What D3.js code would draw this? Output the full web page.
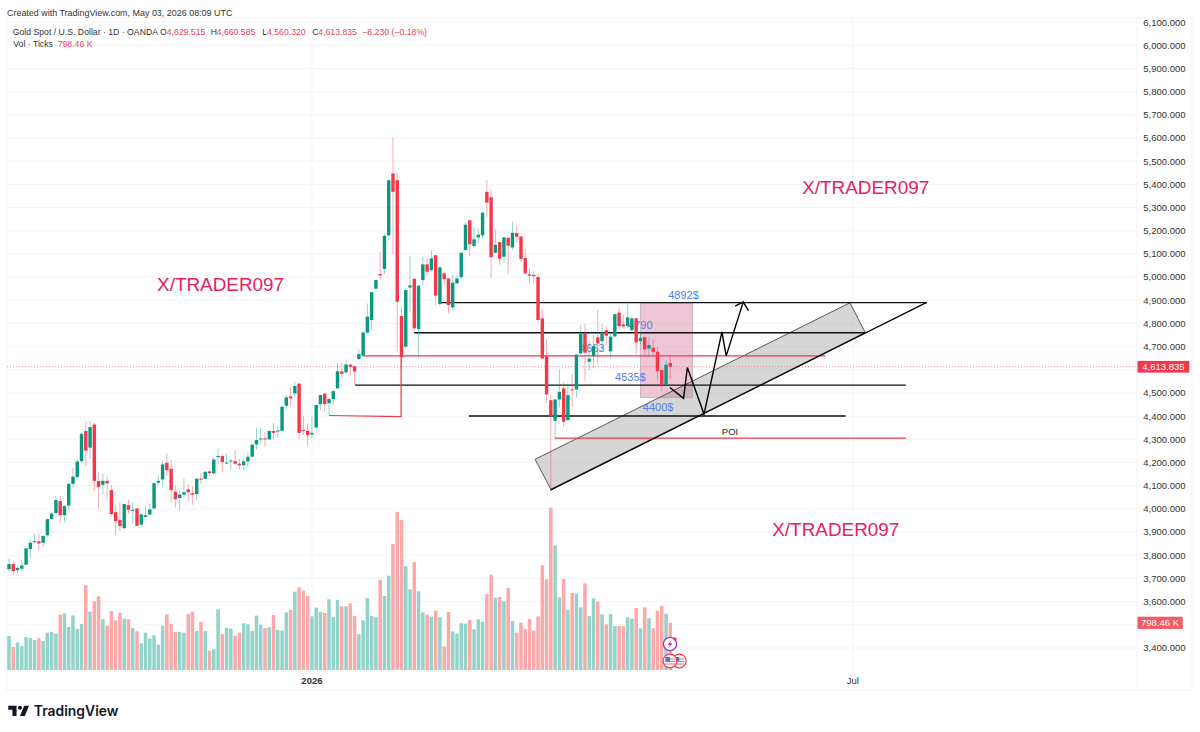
<!DOCTYPE html>
<html><head><meta charset="utf-8">
<script src="https://cdn.jsdelivr.net/npm/d3@7/dist/d3.min.js"></script>
<style>html,body{margin:0;padding:0;background:#fff;overflow:hidden}svg{display:block}text{font-family:"Liberation Sans",Arial,sans-serif}</style>
</head><body><div id="c"></div>
<script>
const opens=[3740,3762,3736,3742,3759,3827,3857,3860,3854,3886,3957,3982,4034,3973,4014,4108,4137,4206,4336,4264,4364,4120,4104,4121,4081,3986,3952,3917,4016,3991,4002,3932,3965,3976,4002,4113,4127,4199,4173,4074,4047,4062,4084,4068,4064,4131,4130,4162,4153,4223,4228,4198,4205,4206,4195,4188,4205,4225,4278,4300,4304,4300,4336,4334,4337,4445,4485,4498,4540,4340,4337,4321,4351,4452,4497,4456,4474,4520,4593,4589,4622,4615,4646,4661,4760,4815,4950,5013,5035,5180,5447,5418,4832,4700,4955,4993,4776,4987,5055,5030,5094,4884,5016,4994,4869,4973,5000,5117,5245,5134,5171,5180,5368,5344,5105,5151,5088,5170,5128,5190,5175,5082,5012,5010,5000,4822,4659,4469,4380,4472,4520,4383,4515,4515,4671,4757,4635,4659,4740,4724,4771,4680,4744,4847,4796,4789,4771,4822,4724,4741,4692,4695,4678,4599,4534,4629.515];
const highs=[3786,3775,3756,3779,3832,3868,3891,3893,3887,3958,3985,4055,4055,4016,4113,4176,4213,4330,4377,4379,4372,4159,4152,4140,4103,4016,4028,4021,4041,4028,4002,3981,4015,4024,4114,4146,4209,4241,4209,4101,4077,4130,4107,4097,4136,4156,4163,4166,4222,4261,4234,4239,4215,4257,4218,4222,4242,4281,4351,4349,4330,4340,4372,4357,4443,4491,4524,4548,4543,4400,4369,4400,4451,4494,4498,4481,4512,4628,4630,4639,4628,4620,4689,4764,4886,4938,4990,5109,5188,5418,5603,5452,4872,4947,5091,4994,4966,5088,5083,5117,5095,5045,5023,4997,5009,5009,5106,5234,5249,5214,5210,5279,5418,5378,5206,5151,5174,5170,5239,5220,5177,5124,5037,5027,5013,4862,4733,4491,4475,4602,4548,4541,4581,4666,4793,4797,4725,4750,4858,4800,4790,4764,4843,4869,4840,4886,4829,4824,4764,4744,4742,4732,4700,4599,4642,4660.585];
const lows=[3729,3715,3719,3729,3757,3789,3851,3817,3835,3880,3955,3978,3942,3943,3995,4093,4136,4199,4185,4218,4078,4001,4062,4041,3969,3884,3904,3913,3980,3937,3926,3926,3962,3973,3999,4098,4096,4143,4029,4006,3995,4052,4032,4018,4038,4107,4127,4141,4152,4199,4160,4193,4170,4188,4170,4167,4179,4222,4257,4282,4268,4297,4300,4307,4337,4429,4441,4481,4300,4318,4271,4304,4347,4426,4419,4405,4451,4517,4566,4586,4577,4534,4646,4656,4757,4771,4947,4990,5013,5157,5098,4678,4610,4692,4848,4774,4653,4966,5002,5023,4879,4879,4966,4843,4855,4970,4994,5114,5091,5131,5145,5167,5260,4997,5102,5052,5062,5013,5119,5151,5066,5013,4970,4973,4804,4645,4455,4094,4297,4438,4352,4376,4441,4481,4664,4553,4599,4606,4620,4678,4707,4650,4740,4771,4778,4778,4767,4664,4711,4661,4656,4661,4556,4508,4531,4560.32];
const closes=[3762,3732,3745,3756,3830,3854,3861,3851,3883,3956,3980,4038,3973,4012,4108,4139,4205,4324,4251,4353,4121,4095,4121,4110,3978,3947,3926,4021,3996,3996,3927,3976,3972,3998,4111,4121,4192,4167,4081,4042,4062,4072,4072,4061,4130,4126,4160,4154,4213,4228,4202,4200,4209,4195,4188,4205,4225,4277,4297,4304,4300,4336,4328,4338,4441,4481,4477,4530,4328,4337,4318,4328,4448,4491,4452,4474,4508,4594,4583,4623,4613,4593,4668,4761,4829,4935,4987,5007,5178,5418,5368,4894,4656,4944,4964,4779,4963,5055,5023,5081,4920,5042,4991,4879,4976,4994,5105,5226,5142,5163,5183,5278,5321,5086,5139,5079,5171,5135,5191,5174,5078,5016,5006,5004,4815,4649,4494,4400,4472,4505,4376,4491,4511,4666,4757,4674,4648,4702,4714,4761,4747,4743,4840,4789,4787,4826,4822,4718,4738,4688,4707,4678,4594,4534,4622,4613.835];
const volumes=[574,388,467,405,557,540,507,535,490,631,642,614,935,957,726,923,692,777,1430,985,1160,1244,861,749,997,839,968,867,856,709,653,450,631,529,586,428,749,940,777,642,642,631,946,985,659,811,659,327,349,1025,608,709,698,580,631,788,771,659,918,766,709,721,929,676,664,974,1013,1323,1396,1340,1250,906,1053,980,963,1194,895,1182,1075,1075,1126,912,602,839,1216,912,890,1520,1250,1593,2128,2669,2534,1751,1362,1824,1329,974,935,901,1002,890,400,980,653,614,788,783,845,687,856,816,1278,1610,1222,1233,1160,1385,828,631,799,692,861,664,906,1768,1531,2742,2106,1227,1537,1013,1301,1289,1058,1464,912,1210,1154,940,771,946,743,743,738,890,867,1047,704,1058,873,704,1002,1087,951,798.46];
const priceTicks=[3400,3500,3600,3700,3800,3900,4000,4100,4200,4300,4400,4500,4600,4700,4800,4900,5000,5100,5200,5300,5400,5500,5600,5700,5800,5900,6000,6100];
const hiddenTicks=[3500,4600];
const timeTicks=[{i:71,label:"2026",bold:true},{i:197.8,label:"Jul",bold:false}];
const hLines=[
 {a:100.9,b:215.1,p:4890,c:"#111",w:1.4},
 {a:94.9,b:200.7,p:4760,c:"#111",w:1.4},
 {a:83.05,b:191.3,p:4660,c:"#f2364c",w:1.2},
 {a:81.1,b:210.2,p:4534,c:"#111",w:1.4},
 {a:107.8,b:196.1,p:4401,c:"#111",w:1.4},
 {a:128,b:210.2,p:4305,c:"#f2364c",w:1.2}];
const redStep=[[75,4403],[91.9,4398],[91.9,4658]];
const channel=[[123.3,4214],[127,4085],[200.7,4761],[197.1,4889]];
const trendLine=[[126.9,4081],[215.1,4891]];
const arrowPath=[[154.9,4524],[158.1,4477],[159,4610],[162.9,4409],[167.1,4764],[168.1,4660],[172.1,4893]];
const arrowHead=[[170.2,4875],[172.1,4893],[173.3,4855]];
const pinkBox={a:148,b:160.2,top:4889,bottom:4481};
const notes=[{i:154.5,p:4905,t:"4892$"},{i:142.05,p:4551,t:"4535$"},{i:148.55,p:4421,t:"4400$"},{i:145.1,p:4777,t:"4790"},{i:133.85,p:4676,t:"4663"}];
const brand=[{i:34.7,p:4940,t:"X/TRADER097"},{i:185.9,p:5358,t:"X/TRADER097"},{i:178.9,p:3885,t:"X/TRADER097"}];

const W=1200,H=732;
const svg=d3.select("#c").append("svg").attr("width",W).attr("height",H);
const x=d3.scaleLinear().domain([0,155]).range([9,670.3]);
const y=d3.scaleLinear().domain([3400,6100]).range([648,22.1]);
const v=d3.scaleLinear().domain([0,2750]).range([670,507.2]);
const GREEN="#089981",RED="#f5364b",VG="#93d3c9",VR="#fba9ab";
const fmt=d3.format(",.3f");
const line=d3.line().x(d=>x(d[0])).y(d=>y(d[1]));
const idx=d3.range(opens.length);

// frame and grid
const g=svg.append("g");
g.selectAll("line.h").data(priceTicks).join("line").attr("x1",7).attr("x2",1137).attr("y1",d=>y(d)).attr("y2",d=>y(d)).attr("stroke","#f5f5f5");
g.selectAll("line.v").data(timeTicks).join("line").attr("x1",d=>x(d.i)).attr("x2",d=>x(d.i)).attr("y1",18).attr("y2",690).attr("stroke","#f5f5f5");
[[7,18,1192,18],[7,18,7,690],[7,690,1192,690],[1192,18,1192,690],[1137,18,1137,690]].forEach(l=>g.append("line").attr("x1",l[0]).attr("y1",l[1]).attr("x2",l[2]).attr("y2",l[3]).attr("stroke","#f3f3f3"));

// volume
svg.append("g").selectAll("rect").data(idx).join("rect")
 .attr("x",i=>x(i)-1.75).attr("width",3.5).attr("y",i=>v(volumes[i])).attr("height",i=>v(0)-v(volumes[i]))
 .attr("fill",i=>closes[i]>=opens[i]?VG:VR);

// price line
svg.append("line").attr("x1",7).attr("x2",1137).attr("y1",y(closes[155])).attr("y2",y(closes[155])).attr("stroke","#f5364b").attr("stroke-opacity",.55).attr("stroke-dasharray","1 2");

// annotations (beneath the candles)
svg.append("rect").attr("x",x(pinkBox.a)).attr("width",x(pinkBox.b)-x(pinkBox.a)).attr("y",y(pinkBox.top)).attr("height",y(pinkBox.bottom)-y(pinkBox.top)).attr("fill","#d8789c").attr("fill-opacity",.42).attr("stroke","#a89aa0").attr("stroke-opacity",.6);
svg.append("path").attr("d",line(channel)+"Z").attr("fill","#8f8f8f").attr("fill-opacity",.37).attr("stroke","#333").attr("stroke-width",.8);
hLines.forEach(l=>svg.append("line").attr("x1",x(l.a)).attr("x2",x(l.b)).attr("y1",y(l.p)).attr("y2",y(l.p)).attr("stroke",l.c).attr("stroke-width",l.w));
svg.append("path").attr("d",line(redStep)).attr("fill","none").attr("stroke","#f2364c").attr("stroke-width",1.2);
svg.append("path").attr("d",line(trendLine)).attr("fill","none").attr("stroke","#000").attr("stroke-width",1.2);
svg.append("path").attr("d",line(arrowPath)).attr("fill","none").attr("stroke","#000").attr("stroke-width",1.4);
svg.append("path").attr("d",line(arrowHead)).attr("fill","none").attr("stroke","#000").attr("stroke-width",1.4);
svg.selectAll("text.note").data(notes).join("text").attr("class","note").attr("x",d=>x(d.i)).attr("y",d=>y(d.p)).attr("font-size",11).attr("fill","#4d7ff0").text(d=>d.t);
svg.append("text").attr("x",x(169)).attr("y",y(4318)).attr("font-size",9.5).attr("fill","#222").attr("text-anchor","middle").text("POI");

// candles
const c=svg.append("g");
c.selectAll("line").data(idx).join("line").attr("x1",i=>x(i)).attr("x2",i=>x(i)).attr("y1",i=>y(highs[i])).attr("y2",i=>y(lows[i]))
 .attr("stroke",i=>closes[i]>=opens[i]?GREEN:RED).attr("stroke-opacity",.42).attr("stroke-width",1);
c.selectAll("rect").data(idx).join("rect").attr("x",i=>x(i)-1.7).attr("width",3.4)
 .attr("y",i=>y(Math.max(opens[i],closes[i]))).attr("height",i=>Math.max(1,Math.abs(y(opens[i])-y(closes[i]))))
 .attr("fill",i=>closes[i]>=opens[i]?GREEN:RED);

// brand texts
svg.selectAll("text.brand").data(brand).join("text").attr("class","brand").attr("x",d=>x(d.i)).attr("y",d=>y(d.p)).attr("font-size",18.9).attr("fill","#e8205f").text(d=>d.t);

// right axis
svg.selectAll("text.tick").data(priceTicks.filter(d=>!hiddenTicks.includes(d))).join("text").attr("class","tick").attr("x",1185.5).attr("y",d=>y(d)+3.4).attr("text-anchor","end").attr("font-size",9.5).attr("fill","#333").text(d=>fmt(d));
// time axis
svg.selectAll("text.time").data(timeTicks).join("text").attr("class","time").attr("x",d=>x(d.i)).attr("y",684).attr("text-anchor","middle").attr("font-size",9.5).attr("font-weight",d=>d.bold?700:400).attr("fill","#333").text(d=>d.label);
// value labels
const py=y(closes[155]);
svg.append("rect").attr("x",1137.5).attr("y",py-5.7).attr("width",51.8).attr("height",11.7).attr("fill","#f5364b");
svg.append("text").attr("x",1163.4).attr("y",py+3.4).attr("text-anchor","middle").attr("font-size",9.5).attr("fill","#fff").text(fmt(closes[155]));
const vy=v(volumes[155]);
svg.append("rect").attr("x",1137.5).attr("y",vy-6).attr("width",45.2).attr("height",12.2).attr("fill","#f65a60");
svg.append("text").attr("x",1160).attr("y",vy+3.4).attr("text-anchor","middle").attr("font-size",9.5).attr("fill","#fff").text("798.46 K");

// header
svg.append("text").attr("x",7).attr("y",15.8).attr("font-size",8.95).attr("fill","#333").text("Created with TradingView.com, May 03, 2026 08:09 UTC");
const hdr=(xx,yy,t,col)=>svg.append("text").attr("x",xx).attr("y",yy).attr("font-size",8.7).attr("fill",col).text(t);
const DK="#333",RD="#f5405a";
hdr(12.7,34.7,"Gold Spot / U.S. Dollar · 1D · OANDA",DK);
hdr(160,34.7,"O",DK);hdr(166.7,34.7,"4,629.515",RD);
hdr(210.7,34.7,"H",DK);hdr(216.7,34.7,"4,660.585",RD);
hdr(262.3,34.7,"L",DK);hdr(267,34.7,"4,560.320",RD);
hdr(312.3,34.7,"C",DK);hdr(318.3,34.7,"4,613.835",RD);
hdr(362.3,34.7,"−8.230 (−0.18%)",RD);
hdr(13.3,46.7,"Vol · Ticks",DK);hdr(57.7,46.7,"798.46 K",RD);

// event icons
const ic=svg.append("g");
ic.append("circle").attr("cx",670).attr("cy",644).attr("r",6.6).attr("fill","#fff").attr("stroke","#9c34c8").attr("stroke-width",1.3);
ic.append("path").attr("d","M671.5 640L667.8 645H670L668.6 648.2L672.4 643.3H670.2Z").attr("fill","#9c34c8");
ic.append("circle").attr("cx",675).attr("cy",639).attr("r",1.7).attr("fill","#f5364b");
[679.3,670].forEach(cx=>{
 ic.append("circle").attr("cx",cx).attr("cy",661).attr("r",6.8).attr("fill","#fff").attr("stroke","#f5364b").attr("stroke-width",1.2);
 [658.5,661,663.5].forEach(yy=>ic.append("rect").attr("x",cx-5).attr("y",yy).attr("width",10).attr("height",1).attr("fill","#f5607a"));
 ic.append("rect").attr("x",cx-4.5).attr("y",657).attr("width",4.5).attr("height",4.5).attr("fill","#3f78d8");
});

// logo
svg.append("path").attr("transform","translate(6.9,701.56) scale(.69)").attr("d","M14 6H2v6h6v9h6V6zm12 15h-7l6-15h7l-6 15zm-7-9a3 3 0 1 0 0-6 3 3 0 0 0 0 6z").attr("fill","#131722");
svg.append("text").attr("x",33.8).attr("y",716).attr("font-size",13.9).attr("font-weight",600).attr("fill","#131722").style("font-family","Inter,sans-serif").text("TradingView");
</script></body></html>
